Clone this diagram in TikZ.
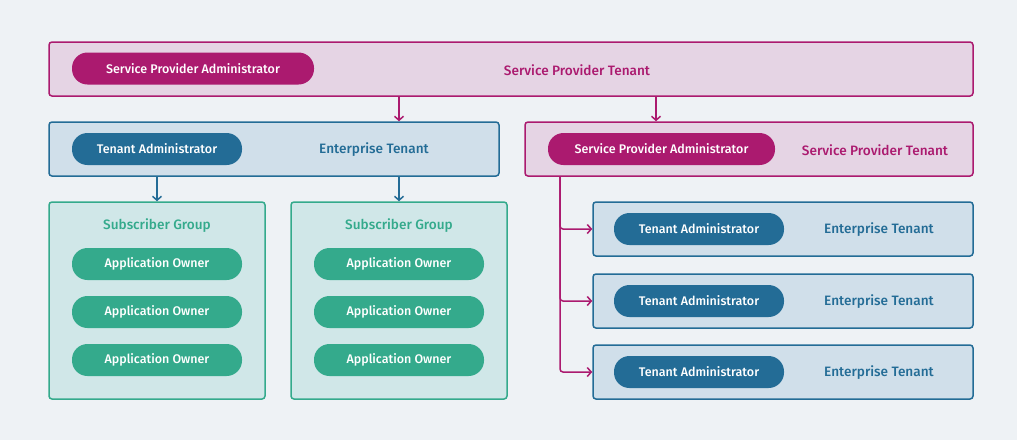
\documentclass[tikz,border=0pt]{standalone}
\usepackage{fontspec}
\setmainfont{Fira Sans Medium}
\usetikzlibrary{arrows.meta}
\definecolor{bgcol}{HTML}{EEF2F5}
\definecolor{spcol}{HTML}{AB1A6F}
\definecolor{spfill}{HTML}{E5D4E4}
\definecolor{etcol}{HTML}{236C96}
\definecolor{etfill}{HTML}{D0DFEA}
\definecolor{sgcol}{HTML}{34AA8C}
\definecolor{sgfill}{HTML}{D0E7E8}

\begin{document}
\begin{tikzpicture}[x=1pt, y=-1pt,
		every node/.style={font=\fontsize{12.5}{15}\selectfont, inner sep=0pt},
		lbl/.style={font=\fontsize{13.6}{16}\selectfont, yshift=-1pt},
		tbox/.style={rectangle, rounded corners=3pt, line width=1.5pt},
		pill/.style={rectangle, rounded corners=15.5pt, minimum height=32pt, text=white},
		spbox/.style={tbox, draw=spcol, fill=spfill, minimum height=54pt},
		etbox/.style={tbox, draw=etcol, fill=etfill, minimum height=54pt},
		sgbox/.style={tbox, draw=sgcol, fill=sgfill, minimum width=216pt, minimum height=197pt}]
	\fill[bgcol] (0,0) rectangle (1017,440);
	\useasboundingbox (0,0) rectangle (1017,440);

	% service provider tenants
	\node[spbox, minimum width=924pt] (SPT) at (511,69) {};
	\node[pill, fill=spcol, minimum width=242pt] (SPA) at (193,68.5) {Service Provider Administrator};
	\node[lbl, text=spcol] (SPTl) at (577,69) {Service Provider Tenant};

	\node[spbox, minimum width=448pt] (SPT2) at (749,149) {};
	\node[pill, fill=spcol, minimum width=227pt] (SPA2) at (661.5,149) {Service Provider Administrator};
	\node[lbl, text=spcol] (SPTl2) at (875,149) {Service Provider Tenant};

	% enterprise tenant with subscriber groups
	\node[etbox, minimum width=450pt] (ET) at (274,149) {};
	\node[pill, fill=etcol, minimum width=170pt] (TA) at (157,149) {Tenant Administrator};
	\node[lbl, text=etcol] (ETl) at (374,149) {Enterprise Tenant};

	\foreach \g/\x in {1/157, 2/399} {
		\node[sgbox] (SG\g) at (\x,300.5) {};
		\node[lbl, text=sgcol] (SGl\g) at (\x,225) {Subscriber Group};
		\foreach \i/\y in {1/264, 2/312, 3/360}
			\node[pill, fill=sgcol, minimum width=170pt] (AO\g\i) at (\x,\y) {Application Owner};
	}

	% enterprise tenants under the second provider
	\foreach \i/\y in {1/229, 2/301, 3/372} {
		\node[etbox, minimum width=380pt] (RET\i) at (783,\y) {};
		\node[pill, fill=etcol, minimum width=170pt] (RTA\i) at (699,\y) {Tenant Administrator};
		\node[lbl, text=etcol] (RETl\i) at (879,\y) {Enterprise Tenant};
	}

	\begin{scope}[line width=1.5pt, >={Straight Barb[length=4pt, width=9pt]}]
		\draw[->, spcol] (SPT.south -| SG2.north) -- (ET.north -| SG2.north);
		\draw[->, spcol] (SPT.south -| 656,0) -- (SPT2.north -| 656,0);
		\draw[->, etcol] (ET.south -| SG1.north) -- (SG1.north);
		\draw[->, etcol] (ET.south -| SG2.north) -- (SG2.north);
		\foreach \i in {1,2,3}
			\draw[->, spcol, rounded corners=3pt] (SPT2.south -| 560,0) |- (RET\i.west);
	\end{scope}
\end{tikzpicture}
\end{document}
